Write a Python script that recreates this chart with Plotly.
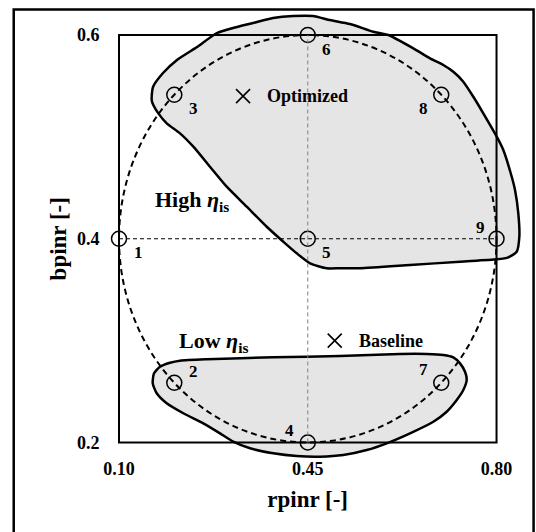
import plotly.graph_objects as go

# Central composite design points (rpinr, bpinr)
design_rpinr = [0.10, 0.2025, 0.2025, 0.45, 0.45, 0.45, 0.6975, 0.6975, 0.80]
design_bpinr = [0.40, 0.2586, 0.5414, 0.20, 0.40, 0.60, 0.2586, 0.5414, 0.40]
design_ids = ["1", "2", "3", "4", "5", "6", "7", "8", "9"]

# Reference cases
case_names = ["Optimized", "Baseline"]
case_rpinr = [0.33, 0.50]
case_bpinr = [0.54, 0.30]

# Outline of the high-efficiency region
high_rpinr = [0.1606, 0.1630, 0.1816, 0.2075, 0.2446, 0.2817, 0.3114, 0.3485, 0.3856,
              0.4226, 0.4597, 0.4912, 0.5283, 0.5715, 0.5994, 0.6457, 0.6767, 0.7013,
              0.7199, 0.7384, 0.7570, 0.7755, 0.8004, 0.8126, 0.8282, 0.8343, 0.8404,
              0.8423, 0.8374, 0.8219, 0.8004, 0.7323, 0.6396, 0.5469, 0.5098, 0.4851,
              0.4542, 0.4295, 0.4047, 0.3739, 0.3368, 0.2997, 0.2687, 0.2378, 0.2131,
              0.1884, 0.1729, 0.1636]
high_bpinr = [0.5362, 0.5490, 0.5627, 0.5755, 0.5882, 0.6020, 0.6069, 0.6118, 0.6167,
              0.6187, 0.6187, 0.6147, 0.6108, 0.6032, 0.6000, 0.5869, 0.5771, 0.5706,
              0.5640, 0.5542, 0.5394, 0.5231, 0.5002, 0.4871, 0.4609, 0.4479, 0.4250,
              0.4020, 0.3873, 0.3818, 0.3798, 0.3775, 0.3742, 0.3710, 0.3710, 0.3710,
              0.3759, 0.3857, 0.3971, 0.4118, 0.4315, 0.4511, 0.4707, 0.4904, 0.5035,
              0.5133, 0.5231, 0.5313]

# Outline of the low-efficiency region
low_rpinr = [0.2131, 0.2626, 0.3861, 0.5098, 0.6210, 0.6706, 0.7013, 0.7199, 0.7323,
             0.7416, 0.7447, 0.7384, 0.7262, 0.7076, 0.6828, 0.6396, 0.5964, 0.5593,
             0.5159, 0.4727, 0.4295, 0.3861, 0.3429, 0.3119, 0.2873, 0.2563, 0.2192,
             0.1884, 0.1699, 0.1625, 0.1649, 0.1760, 0.1946]
low_bpinr = [0.2803, 0.2817, 0.2836, 0.2849, 0.2869, 0.2869, 0.2859, 0.2836, 0.2777,
             0.2695, 0.2613, 0.2515, 0.2417, 0.2302, 0.2204, 0.2090, 0.1992, 0.1926,
             0.1877, 0.1861, 0.1867, 0.1894, 0.1943, 0.2008, 0.2090, 0.2188, 0.2287,
             0.2385, 0.2483, 0.2581, 0.2679, 0.2744, 0.2783]

# Axis ticks
x_ticks = [0.10, 0.45, 0.80]
x_ticktext = ["0.10", "0.45", "0.80"]
y_ticks = [0.2, 0.4, 0.6]
y_ticktext = ["0.2", "0.4", "0.6"]

FONT = "Liberation Serif"
BLACK = "#000000"
FILL = "#e5e5e5"

x_lo, x_hi = min(design_rpinr), max(design_rpinr)
y_lo, y_hi = min(design_bpinr), max(design_bpinr)
x_mid, y_mid = (x_lo + x_hi) / 2, (y_lo + y_hi) / 2

fig = go.Figure()

for xs, ys in [(high_rpinr, high_bpinr), (low_rpinr, low_bpinr)]:
    fig.add_trace(go.Scatter(
        x=xs + xs[:1], y=ys + ys[:1], mode="lines", fill="toself",
        fillcolor=FILL, line=dict(color=BLACK, width=2.5, shape="spline", smoothing=0.6),
        hoverinfo="skip", showlegend=False))

fig.add_trace(go.Scatter(
    x=design_rpinr, y=design_bpinr, mode="markers",
    marker=dict(symbol="circle-open", size=15, color=BLACK, line=dict(width=1.5)),
    showlegend=False, cliponaxis=False))

fig.add_trace(go.Scatter(
    x=case_rpinr, y=case_bpinr, mode="markers",
    marker=dict(symbol="x-thin-open", size=14, color=BLACK, line=dict(width=1.6, color=BLACK)),
    showlegend=False, cliponaxis=False))

shapes = [
    # design space box
    dict(type="rect", xref="x", yref="y", x0=x_lo, x1=x_hi, y0=y_lo, y1=y_hi,
         line=dict(color=BLACK, width=2), layer="above"),
    # circumscribed ellipse of the design
    dict(type="circle", xref="x", yref="y", x0=x_lo, x1=x_hi, y0=y_lo, y1=y_hi,
         line=dict(color=BLACK, width=2, dash="6px,4px"), layer="above"),
    # centre lines
    dict(type="line", xref="x", yref="y", x0=x_lo, x1=x_hi, y0=y_mid, y1=y_mid,
         line=dict(color=BLACK, width=1, dash="4px,3px"), layer="above"),
    dict(type="line", xref="x", yref="y", x0=x_mid, x1=x_mid, y0=y_lo, y1=y_hi,
         line=dict(color="#808080", width=1, dash="4px,3px"), layer="above"),
    # figure frame
    dict(type="path", xref="paper", yref="paper",
         path="M 0.0256 -0.05 L 0.0256 0.9821 L 0.9955 0.9821 L 0.9955 -0.05",
         line=dict(color=BLACK, width=2.5)),
]

# point number placement (pixel offsets)
label_shift = {
    "1": (19, -14), "2": (19, 11), "3": (19, -14), "4": (-18, 12), "5": (19, -14),
    "6": (19, -14), "7": (-18, 13), "8": (-18, -14), "9": (-16, 11),
}

annotations = []
for px, py, lab in zip(design_rpinr, design_bpinr, design_ids):
    dx, dy = label_shift[lab]
    annotations.append(dict(x=px, y=py, xref="x", yref="y", text=lab, showarrow=False,
                            xshift=dx, yshift=dy,
                            font=dict(family=FONT, size=17, color=BLACK, weight="bold")))

for name, px, py in zip(case_names, case_rpinr, case_bpinr):
    annotations.append(dict(x=px, y=py, xref="x", yref="y", text=name, showarrow=False,
                            xanchor="left", xshift=22,
                            font=dict(family=FONT, size=18, color=BLACK, weight="bold")))

annotations.append(dict(x=0.1625, y=0.437, xref="x", yref="y",
                        text="High <i>η</i><sub>is</sub>", showarrow=False, xanchor="left",
                        font=dict(family=FONT, size=22, color=BLACK, weight="bold")))
annotations.append(dict(x=0.2075, y=0.299, xref="x", yref="y",
                        text="Low <i>η</i><sub>is</sub>", showarrow=False, xanchor="left",
                        font=dict(family=FONT, size=22, color=BLACK, weight="bold")))

fig.update_layout(
    width=536, height=532,
    margin=dict(l=0, r=0, t=0, b=0),
    paper_bgcolor="white", plot_bgcolor="white",
    shapes=shapes, annotations=annotations,
    xaxis=dict(domain=[0.148, 1.0], range=[0.0264, 0.8732], anchor="free", position=0.1682,
               showgrid=False, zeroline=False, showline=False,
               tickvals=x_ticks, ticktext=x_ticktext,
               ticks="outside", ticklen=10, tickcolor="rgba(0,0,0,0)",
               tickfont=dict(family=FONT, size=18, color=BLACK, weight="bold"),
               title=dict(text="rpinr [-]", standoff=12,
                          font=dict(family=FONT, size=23, color=BLACK, weight="bold"))),
    yaxis=dict(domain=[0.1024, 1.0], range=[0.1656, 0.6344], anchor="free", position=0.2220,
               showgrid=False, zeroline=False, showline=False,
               tickvals=y_ticks, ticktext=y_ticktext,
               ticks="outside", ticklen=16, tickcolor="rgba(0,0,0,0)",
               tickfont=dict(family=FONT, size=18, color=BLACK, weight="bold"),
               title=dict(text="bpinr [-]", standoff=2,
                          font=dict(family=FONT, size=23, color=BLACK, weight="bold"))),
)

fig.write_html("out.html")
